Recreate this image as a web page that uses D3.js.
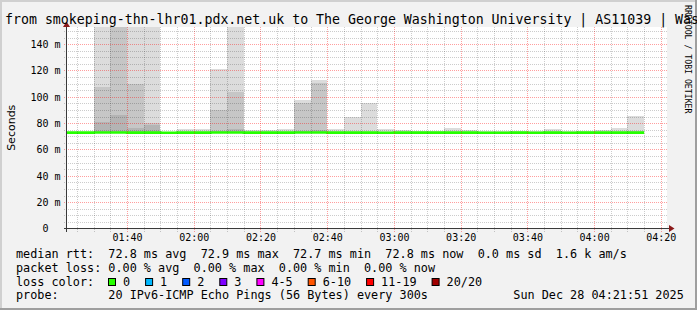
<!DOCTYPE html>
<meta charset="utf-8">
<style>
    body { margin: 0; }
    svg { display: block; }
    text { font-family: "DejaVu Sans Mono", monospace; fill: #000; white-space: pre; }
    .minor { stroke: rgba(0,0,0,0.2); stroke-dasharray: 1,1; shape-rendering: crispEdges; }
    .major { stroke: rgba(255,0,0,0.38); stroke-dasharray: 1,1; shape-rendering: crispEdges; }
</style>
<body>
<script src="https://cdn.jsdelivr.net/npm/d3@7"></script>
<script>
    // 5 minute slots, the first one is cut by the left edge
    var slots = ["01:20","01:25","01:30","01:35","01:40","01:45","01:50","01:55",
        "02:00","02:05","02:10","02:15","02:20","02:25","02:30","02:35","02:40","02:45","02:50","02:55",
        "03:00","03:05","03:10","03:15","03:20","03:25","03:30","03:35","03:40","03:45","03:50","03:55",
        "04:00","04:05","04:10"];
    var median = [72.8,72.8,72.9,72.9,72.8,72.8,72.7,72.8,72.8,72.9,72.9,72.8,72.8,72.8,72.9,72.9,72.8,72.8,
        72.8,72.7,72.8,72.8,72.8,72.8,72.8,72.7,72.7,72.8,72.7,72.8,72.7,72.8,72.8,72.8,72.8];
    var smokeMin = [72.6,72.6,72.6,72.7,72.6,72.6,72.6,72.6,72.6,72.7,72.6,72.6,72.6,72.6,72.7,72.6,72.6,72.6,
        72.6,72.6,72.6,72.6,72.6,72.6,72.6,72.5,72.5,72.6,72.5,72.6,72.5,72.6,72.6,72.6,72.6];
    var smokeOuter = [73.3,73.4,168,181,163,157,73.5,75.7,75.5,121.3,159,74.8,74.6,75.8,97.2,112.9,75.3,85.0,
        95.2,75.4,74.5,74.4,74.4,76.5,75.0,74.3,74.0,74.2,73.8,75.5,74.4,74.2,74.5,76.5,85.8];
    var smokeMid = [73.0,73.0,107.8,172,109.9,80.3,73.0,73.5,73.5,90.1,103.6,73.4,73.3,73.6,95.2,110.4,73.6,73.4,
        73.5,73.5,73.4,73.3,73.3,73.6,73.5,73.3,73.2,73.3,73.2,73.5,73.3,73.3,73.4,73.6,74.0];
    var smokeInner = [72.9,72.9,80.5,86.3,76.5,78.7,72.9,73.1,73.1,74.2,75.2,73.0,73.0,73.1,74.0,75.0,73.1,73.0,
        73.1,73.1,73.0,73.0,73.0,73.1,73.1,73.0,73.0,73.0,73.0,73.1,73.0,73.0,73.0,73.1,73.3];

    var yTicks = [0,20,40,60,80,100,120,140];
    var rttValues = [72.8, 72.9, 72.7, 72.8], rttSd = 0.0, rttAms = 1.6;
    var lossValues = [0, 0, 0, 0];
    var statNames = ["avg","max","min","now"];
    var lossLabels = ["0","1","2","3","4-5","6-10","11-19","20/20"];
    var lossColors = ["#26ff00","#00b8ff","#0059ff","#7e00ff","#ff00ff","#ff5500","#ff0000","#a10000"];

    var title = "from smokeping-thn-lhr01.pdx.net.uk to The George Washington University | AS11039 | Washington";
    var probe = "20 IPv6-ICMP Echo Pings (56 Bytes) every 300s";

    var W = 697, H = 310, charW = 7.1,
        pL = 66.5, pR = 667, pT = 27, pB = 228.5;

    var parse = d3.timeParse("%Y-%m-%d %H:%M:%S"),
        t0 = parse("2025-12-28 01:21:51"),
        t1 = parse("2025-12-28 04:21:51");

    var x = d3.scaleTime().domain([t0, t1]).range([pL, pR]);
    var y = d3.scaleLinear().domain([0, 153]).range([pB, pT]);
    var px = function(v) { return Math.round(v) + 0.5; };

    var rows = slots.map(function(s, i) {
        var a = parse("2025-12-28 " + s + ":00");
        return {t: a, t2: d3.timeMinute.offset(a, 5), med: median[i], lo: smokeMin[i],
            layers: [smokeOuter[i], smokeMid[i], smokeInner[i]]};
    });

    var svg = d3.select("body").append("svg").attr("width", W).attr("height", H);

    // background and 3d frame
    svg.append("rect").attr("width", W).attr("height", H).attr("fill", "#f2f2f2");
    svg.append("path").attr("d", "M0,1H" + W + "M1,0V" + H).attr("stroke", "#d0d0d0").attr("stroke-width", 2);
    svg.append("path").attr("d", "M0," + (H - 1) + "H" + W + "M" + (W - 1) + ",0V" + H)
        .attr("stroke", "#9f9f9f").attr("stroke-width", 2);

    svg.append("defs").append("clipPath").attr("id", "plot")
        .append("rect").attr("x", pL).attr("y", pT).attr("width", pR - pL).attr("height", pB - pT);

    svg.append("rect").attr("x", pL).attr("y", pT).attr("width", pR - pL).attr("height", pB - pT)
        .attr("fill", "#fff");

    // smoke
    var smokeColors = ["#dcdcdc", "#c6c6c6", "#b4b4b4"];
    var plot = svg.append("g").attr("clip-path", "url(#plot)");
    [0, 1, 2].forEach(function(k) {
        plot.selectAll(null).data(rows).enter().append("rect")
            .attr("x", function(d) { return x(d.t); })
            .attr("width", function(d) { return x(d.t2) - x(d.t); })
            .attr("y", function(d) { return y(d.layers[k]); })
            .attr("height", function(d) { return Math.max(0, y(d.lo) - y(d.layers[k])); })
            .attr("fill", smokeColors[k])
            .attr("shape-rendering", "crispEdges");
    });

    // grid
    var grid = svg.append("g");
    var minorX = d3.timeMinute.every(5).range(t0, t1),
        majorX = d3.timeMinute.every(20).range(t0, t1);
    grid.selectAll(null).data(minorX).enter().append("line")
        .attr("class", function(d) { return d.getMinutes() % 20 ? "minor" : "major"; })
        .attr("x1", function(d) { return px(x(d)); }).attr("x2", function(d) { return px(x(d)); })
        .attr("y1", pT).attr("y2", pB + 3);
    grid.selectAll(null).data(d3.range(5, 153, 5)).enter().append("line")
        .attr("class", function(d) { return d % 20 ? "minor" : "major"; })
        .attr("x1", pL - 3).attr("x2", pR)
        .attr("y1", function(d) { return px(y(d)); }).attr("y2", function(d) { return px(y(d)); });

    // median line
    var medLine = d3.line().curve(d3.curveStepAfter)
        .x(function(d) { return x(d.t); }).y(function(d) { return y(d.med); });
    var last = rows[rows.length - 1];
    plot.append("path")
        .datum(rows.concat([{t: last.t2, med: last.med}]))
        .attr("d", medLine)
        .attr("fill", "none").attr("stroke", lossColors[0]).attr("stroke-width", 2.6);

    // axes
    var xAxis = svg.append("g").attr("transform", "translate(0," + pB + ")")
        .call(d3.axisBottom(x).tickValues(majorX).tickFormat(d3.timeFormat("%H:%M")).tickSize(0).tickPadding(5.5));
    var yAxis = svg.append("g").attr("transform", "translate(" + pL + ",0)")
        .call(d3.axisLeft(y).tickValues(yTicks).tickSize(0).tickPadding(6)
            .tickFormat(function(d) { return d ? d + " m" : "0  "; }));
    [xAxis, yAxis].forEach(function(g) {
        g.select(".domain").remove();
        g.attr("font-family", null).attr("font-size", null);
        g.selectAll("text").style("font-size", "10px").attr("fill", "#000");
    });

    svg.append("path").attr("d", "M" + (pL - 3) + "," + pB + "H670M" + pL + "," + (pB + 3) + "V25")
        .attr("stroke", "#3a3a3a").attr("stroke-width", 1).attr("fill", "none").attr("shape-rendering", "crispEdges");
    svg.append("path").attr("d", "M669," + (pB - 3.5) + "L674.5," + pB + "L669," + (pB + 3.5) + "Z")
        .attr("fill", "#8b1a1a");
    svg.append("path").attr("d", "M" + (pL - 3.5) + ",27L" + pL + ",21.5L" + (pL + 3.5) + ",27Z")
        .attr("fill", "#8b1a1a");

    // texts
    svg.append("text").attr("x", 5).attr("y", 23.5).style("font-size", "13.25px").text(title);
    svg.append("text").attr("transform", "translate(14.5," + ((pT + pB) / 2) + ") rotate(-90)")
        .attr("text-anchor", "middle").style("font-family", "'DejaVu Sans', sans-serif").style("font-size", "11px")
        .text("Seconds");
    svg.append("text").attr("transform", "translate(685,5) rotate(90)")
        .style("font-size", "8.2px").attr("fill", "#b4b4b4").text("RRDTOOL / TOBI OETIKER");

    // legend
    var legend = svg.append("g").style("font-size", "11.8px");
    var rttLine = "median rtt:  " + rttValues.map(function(v, i) {
        return v.toFixed(1) + " ms " + statNames[i];
    }).join("  ") + "  " + rttSd.toFixed(1) + " ms sd  " + rttAms.toFixed(1) + " k am/s";
    var lossLine = "packet loss: " + lossValues.map(function(v, i) {
        return v.toFixed(2) + " % " + statNames[i];
    }).join("  ");
    legend.append("text").attr("x", 16).attr("y", 257.5).text(rttLine);
    legend.append("text").attr("x", 16).attr("y", 271.5).text(lossLine);
    legend.append("text").attr("x", 16).attr("y", 285.5).text("loss color:");
    legend.append("text").attr("x", 16).attr("y", 299).text("probe:       " + probe);
    legend.append("text").attr("x", 513.3).attr("y", 299).text(d3.timeFormat("%a %b %d %H:%M:%S %Y")(t1));

    var bx = 108;
    lossLabels.forEach(function(lab, i) {
        legend.append("rect").attr("x", bx + 0.5).attr("y", 278.5).attr("width", 7).attr("height", 7)
            .attr("fill", lossColors[i]).attr("stroke", "#000");
        legend.append("text").attr("x", bx + 15).attr("y", 285.5).text(lab);
        bx += 15 + lab.length * charW + 15;
    });
</script>
</body>
